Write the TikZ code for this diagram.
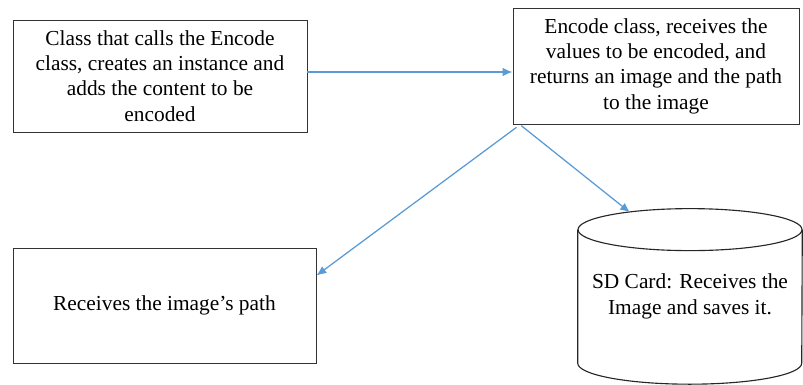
\documentclass[tikz,border=0pt]{standalone}
\usepackage{fontspec}
\setmainfont{Liberation Serif}
\usetikzlibrary{positioning}
\usetikzlibrary{arrows.meta}

\definecolor{linkblue}{RGB}{91,155,213}

\tikzset{
 box/.style={draw=black!80, line width=0.7pt, align=center, inner sep=0pt},
 store/.style={align=center, inner sep=0pt},
 storeline/.style={draw=black!85, line width=0.8pt},
 link/.style={draw=linkblue, line width=0.9pt, -{Latex[length=7pt,width=6pt]}},
}

\begin{document}
\begin{tikzpicture}[font=\fontsize{15.2}{18}\selectfont]
 \useasboundingbox (0,0) rectangle (20.075,-9.6);
 \node[box, minimum width=7.35cm, minimum height=2.8cm] (caller) at (4.0,-1.9)
  {Class that calls the Encode\\class, creates an instance and\\adds the content to be\\encoded};
 \node[box, minimum width=7.15cm, minimum height=2.9cm] (encoder) at (16.4,-1.65)
  {Encode class, receives the\\values to be encoded, and\\returns an image and the path\\to the image};
 \node[box, minimum width=7.575cm, minimum height=2.875cm] (receiver) at (4.1125,-7.6375)
  {Receives the image’s path};
 \node[store, minimum width=5.6cm, minimum height=3.325cm] (sdcard) at (17.25,-7.41)
  {SD Card: Receives the\\Image and saves it.};
 \draw[storeline] (sdcard.north west) -- (sdcard.south west)
  arc[start angle=180, end angle=360, x radius=2.8cm, y radius=0.525cm] -- (sdcard.north east);
 \draw[storeline] (sdcard.north) ellipse[x radius=2.8cm, y radius=0.525cm];
 \draw[link] ([yshift=0.1cm]caller.east) -- ([yshift=0.1cm]caller.east -| encoder.west);
 \draw[link] ([xshift=0.1cm,yshift=-0.07cm]encoder.south west) -- ([yshift=0.75cm]receiver.east);
 \draw[link] ([xshift=0.22cm,yshift=-0.03cm]encoder.south west) -- ([xshift=-1.5cm,yshift=0.43cm]sdcard.north);
\end{tikzpicture}
\end{document}
